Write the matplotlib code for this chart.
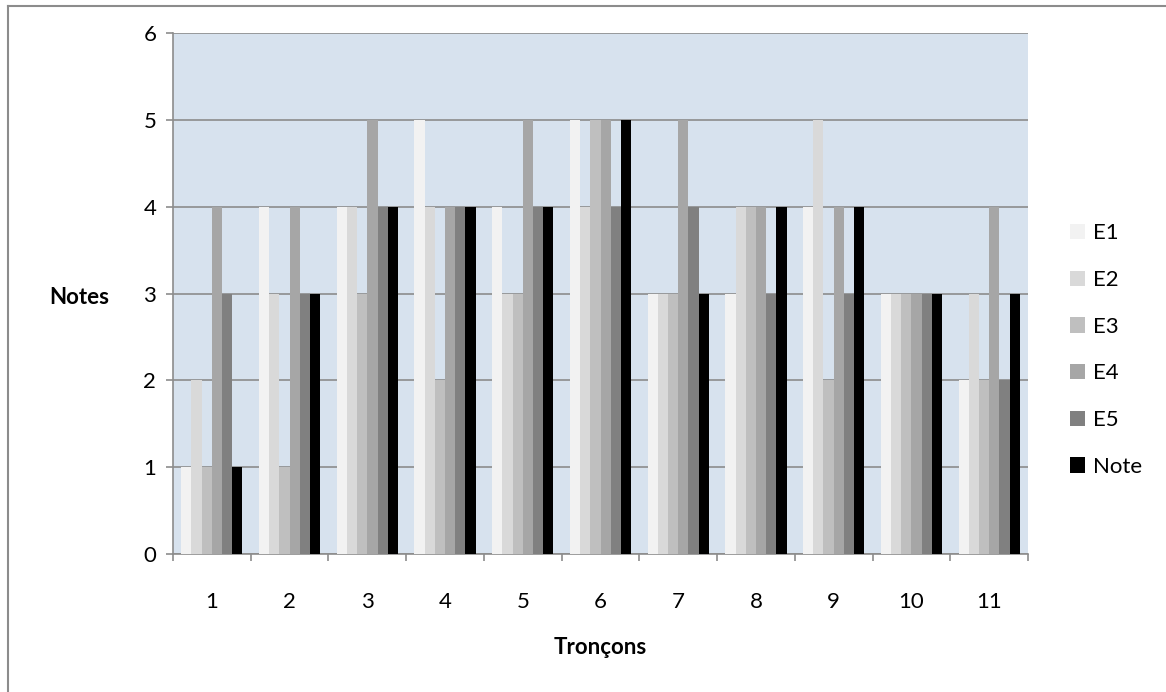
import matplotlib
matplotlib.use("Agg")
import matplotlib.pyplot as plt
from matplotlib.lines import Line2D
import numpy as np

plt.rcParams['font.family'] = ['Lato', 'DejaVu Sans']

categories = ["1", "2", "3", "4", "5", "6", "7", "8", "9", "10", "11"]
series_names = ["E1", "E2", "E3", "E4", "E5", "Note"]
E1 = [1, 4, 4, 5, 4, 5, 3, 3, 4, 3, 2]
E2 = [2, 3, 4, 4, 3, 4, 3, 4, 5, 3, 3]
E3 = [1, 1, 3, 2, 3, 5, 3, 4, 2, 3, 2]
E4 = [4, 4, 5, 4, 5, 5, 5, 4, 4, 3, 4]
E5 = [3, 3, 4, 4, 4, 4, 4, 3, 3, 3, 2]
Note = [1, 3, 4, 4, 4, 5, 3, 4, 4, 3, 3]
series = [E1, E2, E3, E4, E5, Note]
colors = ["#F2F2F2", "#D9D9D9", "#BFBFBF", "#A6A6A6", "#808080", "#000000"]

FS = 16

fig = plt.figure(figsize=(11.66, 6.92), dpi=100)
W, H = 1166, 692
ax = fig.add_axes([173 / W, 1 - 554 / H, (1028 - 173) / W, (554 - 33) / H])
ax.set_facecolor("#D7E2EE")

x = np.arange(len(categories))
bw = 0.131
for i, (vals, c, name) in enumerate(zip(series, colors, series_names)):
    ax.bar(x + (i - 2.5) * bw, vals, width=bw, color=c, label=name, zorder=3, linewidth=0)

ax.set_xlim(-0.5, len(categories) - 0.5)
ax.set_ylim(0, 6)
ax.set_yticks(range(0, 7))
ax.yaxis.grid(True, color="#8C8C8C", linewidth=1.2, zorder=1)
ax.set_axisbelow(True)

ax.set_xticks(x)
ax.set_xticklabels(categories)
ax.set_xticks(np.arange(-0.5, len(categories)), minor=True)
ax.tick_params(axis='x', which='major', length=0, pad=27, labelsize=FS)
ax.tick_params(axis='x', which='minor', length=5, color="#8C8C8C", width=1.2)
ax.tick_params(axis='y', length=5, color="#8C8C8C", width=1.2, pad=7, labelsize=FS)

for s in ["top", "right"]:
    ax.spines[s].set_visible(False)
for s in ["left", "bottom"]:
    ax.spines[s].set_color("#8C8C8C")
    ax.spines[s].set_linewidth(1.2)

fig.text(79 / W, 1 - 297 / H, "Notes", fontsize=FS, fontweight="bold", ha="center", va="center")
fig.text(600 / W, 1 - 648 / H, "Tronçons", fontsize=FS, fontweight="bold", ha="center", va="center")

leg = ax.legend(loc="center left", bbox_to_anchor=(1050 / W, 1 - 350 / H), bbox_transform=fig.transFigure,
                frameon=False, fontsize=FS, labelspacing=1.2, handlelength=0.68, handleheight=0.68,
                handletextpad=0.35)

# outer border (top and left)
fig.add_artist(Line2D([8 / W, 8 / W], [0, 1 - 5.5 / H], transform=fig.transFigure, color="#8C8C8C", linewidth=1.5))
fig.add_artist(Line2D([8 / W, 1], [1 - 5.5 / H, 1 - 5.5 / H], transform=fig.transFigure, color="#8C8C8C", linewidth=1.5))

fig.savefig("out.png", dpi=100)
